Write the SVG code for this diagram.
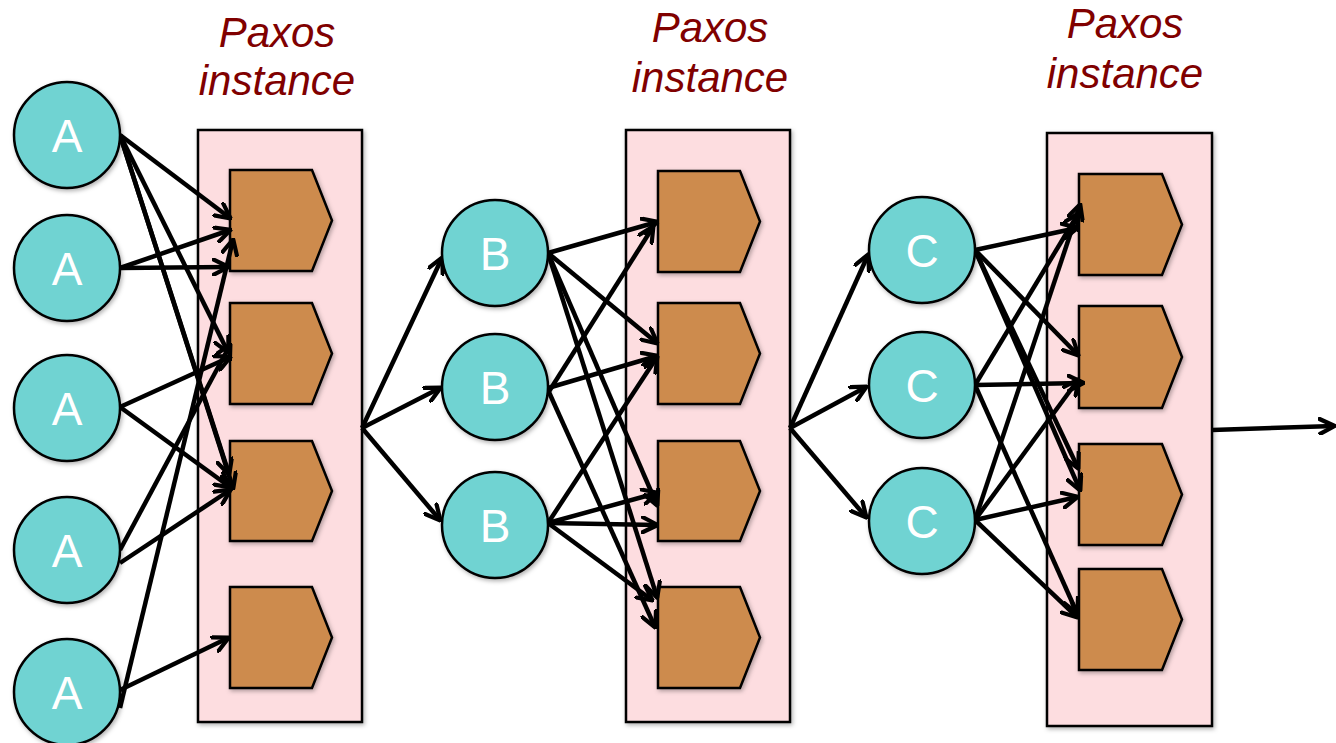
<svg xmlns="http://www.w3.org/2000/svg" width="1336" height="743" viewBox="0 0 1336 743">
<style>
.title{font-family:"Liberation Sans",Arial,sans-serif;font-style:italic;font-size:42px;fill:#800000;text-anchor:middle}
.lbl{font-family:"Liberation Sans",Arial,sans-serif;font-size:46px;fill:#ffffff;text-anchor:middle}
.node{fill:#6fd3d2;stroke:#000;stroke-width:2.5;filter:url(#sh)}
.box{fill:#fddde0;stroke:#000;stroke-width:2.5;filter:url(#sh)}
.slot{fill:#cd8b4e;stroke:#000;stroke-width:2.5;filter:url(#sh)}
</style>
<defs>
<filter id="sh" x="-10%" y="-10%" width="130%" height="130%">
<feDropShadow dx="1.5" dy="2" stdDeviation="2" flood-color="#000" flood-opacity="0.3"/>
</filter>
<marker id="ah" viewBox="0 0 12 12" refX="10.5" refY="6" markerWidth="4" markerHeight="4" orient="auto" markerUnits="strokeWidth">
<path d="M1,1 L11,6 L1,11" fill="none" stroke="#000" stroke-width="2.8" stroke-linecap="round" stroke-linejoin="round"/>
</marker>
</defs>
<rect width="1336" height="743" fill="#ffffff"/>

<g id="titles">
<text class="title" x="277" y="47">Paxos</text>
<text class="title" x="277" y="95">instance</text>
<text class="title" x="710" y="42">Paxos</text>
<text class="title" x="710" y="92">instance</text>
<text class="title" x="1125" y="38">Paxos</text>
<text class="title" x="1125" y="88">instance</text>
</g>

<g id="instance1">
<rect class="box" x="198" y="130" width="164" height="592"/>
<path class="slot" d="M230,170 H312 L332,220.5 L312,271 H230 Z"/>
<path class="slot" d="M230,303 H312 L332,353.5 L312,404 H230 Z"/>
<path class="slot" d="M230,441 H312 L332,491 L312,541 H230 Z"/>
<path class="slot" d="M230,587 H312 L332,637.5 L312,688 H230 Z"/>
</g>
<g id="instance2">
<rect class="box" x="626" y="130" width="164" height="592"/>
<path class="slot" d="M658,171 H740 L760,221.5 L740,272 H658 Z"/>
<path class="slot" d="M658,303 H740 L760,353.5 L740,404 H658 Z"/>
<path class="slot" d="M658,441 H740 L760,491 L740,541 H658 Z"/>
<path class="slot" d="M658,587 H740 L760,637.5 L740,688 H658 Z"/>
</g>
<g id="instance3">
<rect class="box" x="1047" y="133" width="165" height="593"/>
<path class="slot" d="M1079,174 H1162 L1182,224.5 L1162,275 H1079 Z"/>
<path class="slot" d="M1079,306 H1162 L1182,357 L1162,408 H1079 Z"/>
<path class="slot" d="M1079,444 H1162 L1182,494.5 L1162,545 H1079 Z"/>
<path class="slot" d="M1079,569 H1162 L1182,619.5 L1162,670 H1079 Z"/>
</g>

<g id="connectors" stroke="#000" stroke-width="4.5" fill="none" marker-end="url(#ah)">
<!-- A to instance 1 -->
<line x1="120" y1="135" x2="230" y2="218"/>
<line x1="120" y1="135" x2="228" y2="352"/>
<line x1="120" y1="135" x2="229" y2="474"/>
<line x1="120" y1="135" x2="233" y2="488"/>
<line x1="120" y1="268" x2="230" y2="230"/>
<line x1="120" y1="268" x2="228" y2="267"/>
<line x1="120" y1="407" x2="230" y2="357"/>
<line x1="120" y1="407" x2="230" y2="487"/>
<line x1="120" y1="550" x2="230" y2="345"/>
<line x1="120" y1="563" x2="230" y2="490"/>
<line x1="120" y1="708" x2="233" y2="240"/>
<line x1="120" y1="690" x2="228" y2="638"/>
<!-- instance 1 to B -->
<line x1="362" y1="428" x2="442" y2="258"/>
<line x1="362" y1="428" x2="440" y2="388"/>
<line x1="362" y1="428" x2="440" y2="520"/>
<!-- B to instance 2 -->
<line x1="548" y1="253" x2="657" y2="222"/>
<line x1="548" y1="253" x2="657" y2="343"/>
<line x1="548" y1="253" x2="657" y2="505"/>
<line x1="548" y1="253" x2="657" y2="597"/>
<line x1="548" y1="393" x2="653" y2="227"/>
<line x1="548" y1="388" x2="657" y2="356"/>
<line x1="548" y1="390" x2="655" y2="627"/>
<line x1="548" y1="523" x2="657" y2="357"/>
<line x1="548" y1="523" x2="657" y2="493"/>
<line x1="548" y1="523" x2="657" y2="525"/>
<line x1="548" y1="523" x2="652" y2="600"/>
<!-- instance 2 to C -->
<line x1="790" y1="428" x2="868" y2="255"/>
<line x1="790" y1="428" x2="866" y2="387"/>
<line x1="790" y1="428" x2="866" y2="517"/>
<!-- C to instance 3 -->
<line x1="975" y1="250" x2="1077" y2="228"/>
<line x1="975" y1="250" x2="1078" y2="355"/>
<line x1="975" y1="250" x2="1078" y2="468"/>
<line x1="975" y1="250" x2="1080" y2="490"/>
<line x1="975" y1="385" x2="1078" y2="214"/>
<line x1="975" y1="385" x2="1083" y2="383"/>
<line x1="975" y1="385" x2="1077" y2="613"/>
<line x1="975" y1="520" x2="1080" y2="205"/>
<line x1="975" y1="520" x2="1078" y2="380"/>
<line x1="975" y1="520" x2="1077" y2="497"/>
<line x1="975" y1="520" x2="1077" y2="617"/>
<!-- output -->
<line x1="1212" y1="430" x2="1334" y2="426"/>
</g>

<g id="A1"><circle class="node" cx="67" cy="135" r="53"/><text class="lbl" x="67" y="152">A</text></g>
<g id="A2"><circle class="node" cx="67" cy="268" r="53"/><text class="lbl" x="67" y="285">A</text></g>
<g id="A3"><circle class="node" cx="67" cy="408" r="53"/><text class="lbl" x="67" y="425">A</text></g>
<g id="A4"><circle class="node" cx="67" cy="550" r="53"/><text class="lbl" x="67" y="567">A</text></g>
<g id="A5"><circle class="node" cx="67" cy="692" r="53"/><text class="lbl" x="67" y="709">A</text></g>
<g id="B1"><circle class="node" cx="495" cy="253" r="53"/><text class="lbl" x="495" y="270">B</text></g>
<g id="B2"><circle class="node" cx="495" cy="387" r="53"/><text class="lbl" x="495" y="404">B</text></g>
<g id="B3"><circle class="node" cx="495" cy="525" r="53"/><text class="lbl" x="495" y="542">B</text></g>
<g id="C1"><circle class="node" cx="922" cy="250" r="53"/><text class="lbl" x="922" y="267">C</text></g>
<g id="C2"><circle class="node" cx="922" cy="385" r="53"/><text class="lbl" x="922" y="402">C</text></g>
<g id="C3"><circle class="node" cx="922" cy="521" r="53"/><text class="lbl" x="922" y="538">C</text></g>
</svg>
